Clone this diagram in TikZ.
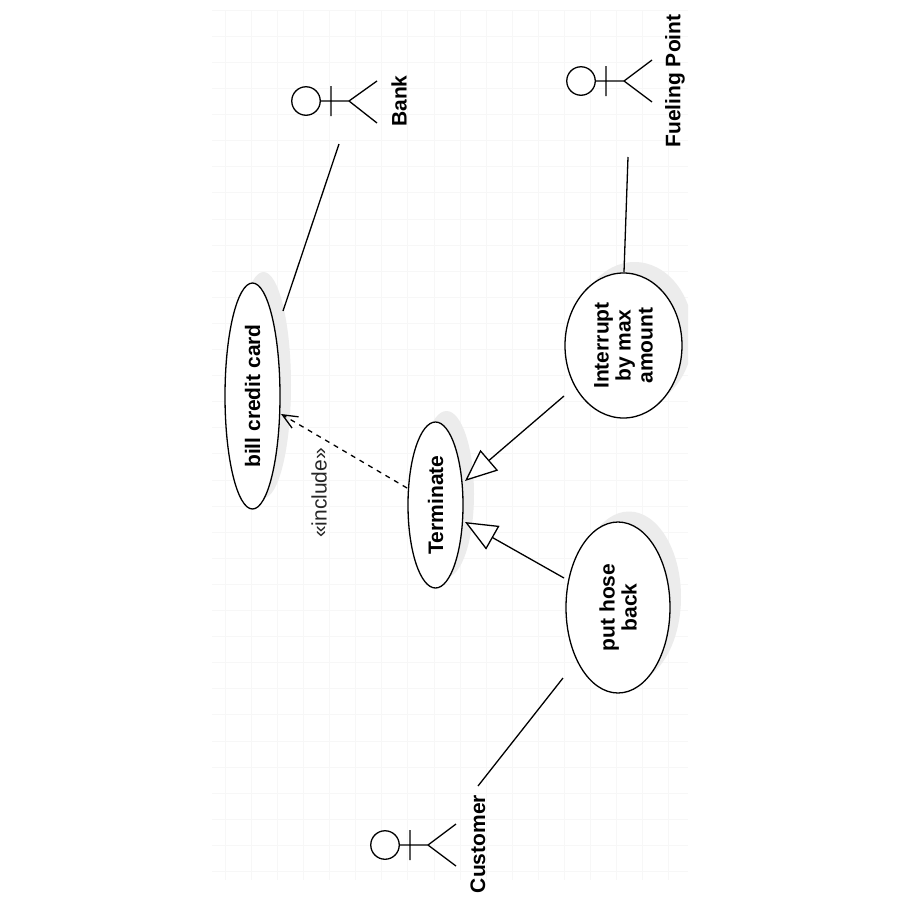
\documentclass[tikz,border=0pt]{standalone}
\usepackage{fontspec}
\setmainfont{Liberation Sans}
\usetikzlibrary{shapes.geometric,arrows.meta}
\definecolor{gridc}{gray}{0.97}
\definecolor{shadowc}{gray}{0.925}
\tikzset{
  usecase/.style={ellipse,draw=black,fill=white,inner sep=0pt,minimum width=#1},
  shade/.style={ellipse,fill=shadowc,draw=none,inner sep=0pt},
  head/.style={circle,draw=black,fill=white,inner sep=0pt,minimum size=28.5pt},
  lab/.style={rotate=90,font=\fontsize{21}{22}\selectfont\bfseries,align=center,inner sep=0pt},
  inc/.style={rotate=90,font=\fontsize{21}{22}\selectfont,text=black!85,inner sep=0pt},
  assoc/.style={draw=black},
  gen/.style={draw=black,-{Triangle[open,fill=white,length=32pt,width=27pt]}},
  dep/.style={draw=black,dash pattern=on 5pt off 5pt,-{Straight Barb[length=15pt,width=13pt]}},
  gridline/.style={draw=gridc,line width=0.5pt}
}
\begin{document}
\begin{tikzpicture}[x=1pt,y=-1pt,line width=1.3pt]
\useasboundingbox (0,0) rectangle (900,900);
\fill[white] (0,0) rectangle (900,900);
\foreach \g in {225,251.1,...,690}{\draw[gridline] (\g,10) -- (\g,880);}
\foreach \g in {10,36.1,...,885}{\draw[gridline] (212,\g) -- (688,\g);}
% shadows
\begin{scope}
\clip (212,10) rectangle (688,880);
\node[shade,minimum width=55pt,minimum height=226pt] (s1) at (263.5,385) {};
\node[shade,minimum width=55pt,minimum height=166pt] (s2) at (446.5,494) {};
\node[shade,minimum width=104pt,minimum height=171pt] (s3) at (629,597) {};
\node[shade,minimum width=117pt,minimum height=145pt] (s4) at (634.5,334.5) {};
\end{scope}
% use cases
\node[usecase=55pt,minimum height=226pt] (bill) at (252.5,396) {};
\node[lab] at (bill.center) (billt) {bill credit card};
\node[usecase=55pt,minimum height=166pt] (term) at (435.5,505) {};
\node[lab] at (term.center) (termt) {Terminate};
\node[usecase=104pt,minimum height=171pt] (hose) at (618,607.5) {};
\node[lab] at (hose.center) (hoset) {put hose\\back};
\node[usecase=117pt,minimum height=145pt] (intr) at (623.5,345.5) {};
\node[lab] at (intr.center) (intrt) {Interrupt\\by max\\amount};
% actors
\node[head] (bankh) at (306,101) {};
\coordinate (bankb) at (349,101);
\draw (bankh.east) -- (bankb) -- (377,81) (bankb) -- (377,123) (331,86) -- (331,116);
\node[lab,anchor=center] (bankl) at (399,101) {Bank};
\node[head] (fuelh) at (581,81) {};
\coordinate (fuelb) at (624,81);
\draw (fuelh.east) -- (fuelb) -- (652,60) (fuelb) -- (652,102) (606,66) -- (606,96);
\node[lab] (fuell) at (675,81) {Fueling Point};
\node[head] (custh) at (385,845) {};
\coordinate (custb) at (428,845);
\draw (custh.east) -- (custb) -- (456,824) (custb) -- (456,866) (410,830) -- (410,860);
\node[lab] (custl) at (478,844) {Customer};
% connectors
\coordinate (c1a) at (339,144);
\coordinate (c1b) at (283,311);
\draw[assoc] (c1a) -- (c1b);
\coordinate (c2a) at (628,157);
\coordinate (c2b) at (624,272);
\draw[assoc] (c2a) -- (c2b);
\coordinate (c3a) at (563,678);
\coordinate (c3b) at (478,786);
\draw[assoc] (c3a) -- (c3b);
\coordinate (g1a) at (564,396);
\coordinate (g1b) at (465,481);
\draw[gen] (g1a) -- (g1b);
\coordinate (g2a) at (564,578);
\coordinate (g2b) at (465,522);
\draw[gen] (g2a) -- (g2b);
\coordinate (d1a) at (407,488);
\coordinate (d1b) at (281,414);
\draw[dep] (d1a) -- (d1b);
\node[inc] (incl) at (319,493) {«include»};
\end{tikzpicture}
\end{document}
